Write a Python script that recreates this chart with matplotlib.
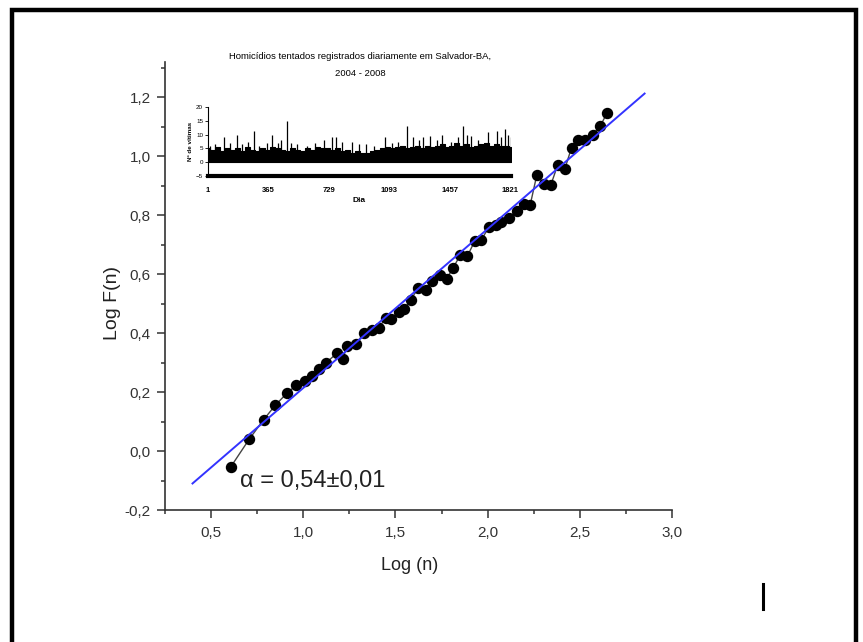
import matplotlib
matplotlib.use("Agg")
import matplotlib.pyplot as plt
from matplotlib.ticker import MultipleLocator, FuncFormatter
from matplotlib.patches import Rectangle
from matplotlib.lines import Line2D

# DFA points: log(n) vs log F(n)
log_n = [0.607, 0.707, 0.786, 0.848, 0.911, 0.962, 1.007, 1.049, 1.083, 1.121,
         1.183, 1.216, 1.237, 1.284, 1.331, 1.373, 1.409, 1.446, 1.476, 1.518,
         1.548, 1.585, 1.621, 1.664, 1.697, 1.741, 1.777, 1.812, 1.851, 1.890,
         1.929, 1.965, 2.007, 2.043, 2.071, 2.116, 2.158, 2.197, 2.230, 2.266,
         2.306, 2.342, 2.378, 2.418, 2.454, 2.490, 2.527, 2.568, 2.610, 2.647]
log_F = [-0.054, 0.040, 0.107, 0.155, 0.196, 0.223, 0.239, 0.255, 0.280, 0.298,
         0.332, 0.314, 0.357, 0.364, 0.401, 0.410, 0.416, 0.453, 0.448, 0.471,
         0.483, 0.514, 0.553, 0.548, 0.576, 0.599, 0.585, 0.621, 0.665, 0.662,
         0.712, 0.716, 0.761, 0.767, 0.776, 0.792, 0.815, 0.838, 0.835, 0.937,
         0.905, 0.903, 0.969, 0.958, 1.029, 1.054, 1.057, 1.073, 1.103, 1.148]

# linear fit
alpha = 0.54
intercept = -0.326
fit_x = [0.40, 2.85]

# inset: daily series (envelope read every 30 days + visible spikes)
band_days = list(range(1, 1802, 30)) + [1826]
band_top = [5, 4.5, 5.5, 4, 5, 4.5, 5, 4, 5.5, 4.5, 4, 5, 4.5, 5.5, 5, 4.5, 4, 5, 4.5, 4, 5, 4.5, 5.5, 5,
            5, 4.5, 5, 4, 4.5, 3.5, 4, 3.5, 3.5, 4, 4.5, 5, 5.5,
            5, 5.5, 6, 5, 5.5, 6, 5, 6, 5.5, 6, 6.5, 5.5, 6, 7, 6, 6.5, 5.5, 6, 6.5, 7, 6, 6.5, 6, 6,
            5.5]
spike_days = [13, 44, 95, 132, 173, 208, 243, 279, 309, 356, 385, 422, 442, 475, 503, 540,
              595, 646, 697, 748, 772, 809, 871, 911, 952, 1003, 1066, 1112, 1147, 1198,
              1239, 1270, 1297, 1341, 1378, 1413, 1464, 1505, 1535, 1562, 1586, 1627,
              1688, 1740, 1766, 1790, 1810, 1824]
spike_vals = [6, 6.5, 9, 7, 10, 6.5, 7.5, 11.4, 6, 7, 10, 7, 8, 15, 7, 6.5,
              6, 7, 8, 9, 9, 7.5, 7.5, 6.5, 6.5, 6, 9, 7, 7.5, 13,
              9, 8, 9, 9.5, 8, 10, 7.5, 9, 13, 10, 9.5, 8,
              11, 11.4, 9, 12, 10, 9]
inset_ticks = [1, 365, 729, 1093, 1457, 1821]

plt.rcParams['font.family'] = ['Liberation Sans', 'DejaVu Sans']

fig = plt.figure(figsize=(8.63, 6.42), dpi=100)

ax = fig.add_axes([0.191, 0.2056, 0.588, 0.6978])
ax.plot(log_n, log_F, '-', color='#444444', lw=1.0, zorder=2)
ax.plot(log_n, log_F, 'o', color='black', ms=7.2, zorder=3)
fy = [alpha * x + intercept for x in fit_x]
ax.plot(fit_x, fy, color='#3333ff', lw=1.4, zorder=4)

ax.set_xlim(0.25, 3.0)
ax.set_ylim(-0.2, 1.32)
ax.xaxis.set_major_locator(MultipleLocator(0.5))
ax.xaxis.set_minor_locator(MultipleLocator(0.25))
ax.yaxis.set_major_locator(MultipleLocator(0.2))
ax.yaxis.set_minor_locator(MultipleLocator(0.1))
comma = FuncFormatter(lambda v, p: f"{v:.1f}".replace('.', ','))
ax.xaxis.set_major_formatter(comma)
ax.yaxis.set_major_formatter(comma)
for s in ['top', 'right']:
    ax.spines[s].set_visible(False)
for s in ['left', 'bottom']:
    ax.spines[s].set_linewidth(1.2)
    ax.spines[s].set_color('#333333')
ax.tick_params(which='major', direction='out', length=6, width=1.1, color='#333333',
               labelsize=11, labelcolor='#333333')
ax.tick_params(which='minor', direction='out', length=3, width=1.1, color='#333333')
ax.tick_params(axis='x', pad=5.5)
ax.tick_params(axis='y', pad=4)
ax.set_xlabel('Log (n)', fontsize=13, color='#222222', va='center')
ax.xaxis.set_label_coords(0.483, -0.123)
ax.set_ylabel('Log F(n)', fontsize=14, color='#222222', va='center')
ax.yaxis.set_label_coords(-0.1026, 0.462)
ax.text(0.658, -0.122, 'α = 0,54±0,01', fontsize=17, color='#222222',
        va='baseline', ha='left')

# inset
ax2 = fig.add_axes([0.241, 0.726, 0.351, 0.107])
ax2.fill_between(band_days, 0, band_top, step='mid', color='black', lw=0.8)
ax2.vlines(spike_days, 0, spike_vals, color='black', lw=0.9)
ax2.set_xlim(1, 1826)
ax2.set_ylim(-5, 20)
ax2.set_xticks(inset_ticks)
ax2.set_yticks([-5, 0, 5, 10, 15, 20])
for s in ['top', 'right']:
    ax2.spines[s].set_visible(False)
ax2.spines['bottom'].set_linewidth(3.0)
ax2.spines['left'].set_linewidth(0.8)
ax2.tick_params(axis='x', length=0, pad=8, labelsize=5.5)
ax2.tick_params(axis='y', length=2.5, width=0.6, pad=1, labelsize=4.5)
for lab in ax2.get_xticklabels():
    lab.set_fontweight('bold')
ax2.set_xlabel('Dia', fontsize=6, fontweight='bold', labelpad=2)
ax2.set_ylabel('Nº de vítimas', fontsize=4.5, fontweight='bold', labelpad=2)

fig.text(0.417, 0.899, 'Homicídios tentados registrados diariamente em Salvador-BA,\n2004 - 2008',
         ha='center', va='center', fontsize=6.8, linespacing=2.1)

# outer frame and cursor mark
fig.patches.append(Rectangle((0.01356, -0.1), 0.992 - 0.01356, 0.9844 + 0.1,
                             transform=fig.transFigure, fill=False, lw=3.2,
                             edgecolor='black', clip_on=False))
fig.lines.append(Line2D([0.8842, 0.8842], [1 - 584 / 642, 1 - 609 / 642],
                        transform=fig.transFigure, color='black', lw=2.2))

fig.savefig('out.png', dpi=100)
